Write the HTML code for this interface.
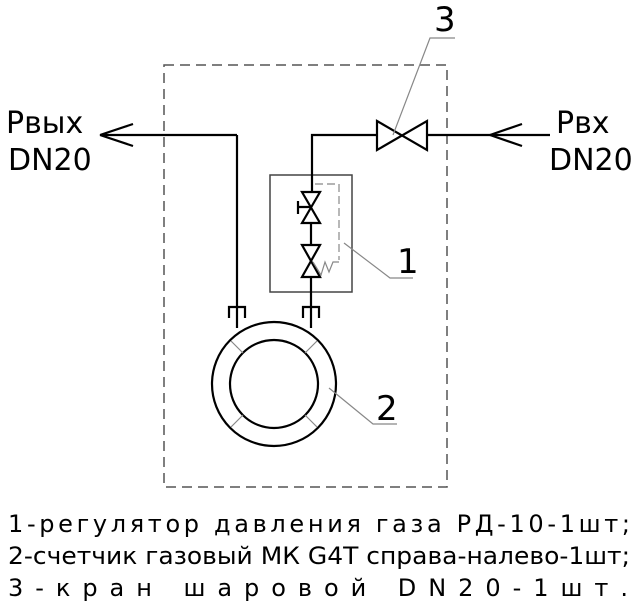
<!DOCTYPE html>
<html><head><style>body{margin:0;background:#fff}svg{display:block}</style></head><body>
<svg width="637" height="614" viewBox="0 0 637 614" xmlns="http://www.w3.org/2000/svg" font-family="'DejaVu Sans','Liberation Sans',sans-serif">
<g fill="none" stroke="#000" stroke-width="2.2">
<rect x="164" y="65" width="283" height="422" stroke="#555" stroke-width="1.5" stroke-dasharray="10,6"/>
<rect x="270" y="175" width="82" height="117" stroke="#444" stroke-width="1.5"/>
<path d="M550 135 H427 M377 135 H312 V192 M311 223 V245 M311 277 V328"/>
<path d="M490 135 L522 124 M490 135 L522 146"/>
<path d="M237 135 H100 M100 135 L133 124 M100 135 L133 146 M237 135 V328"/>
<path d="M377 121 L427 150 L427 121 L377 150 Z"/>
<path d="M302 192 L320 192 L302 223 L320 223 Z M298 207 H311 M298 201 V214"/>
<path d="M302 245 L320 245 L302 277 L320 277 Z"/>
<path d="M229 318 V307 H245 V318 M303 318 V307 H319 V318"/>
<circle cx="274" cy="384" r="62"/>
<circle cx="274" cy="384" r="44"/>
</g>
<g fill="none" stroke="#888" stroke-width="1.2">
<path d="M231 341 L243 353 M317 341 L305 353 M231 427 L243 415 M317 427 L305 415"/>
<path d="M315 184 H339 V260" stroke-dasharray="8,4"/>
<path d="M339 262 L333 262 L329 272 L325 262 L321 275 L313 262"/>
<path d="M455 38 H430 L393 135"/>
<path d="M344 243 L390 278 H413"/>
<path d="M329 388 L373 424 H397"/>
</g>
<g font-size="34" fill="#000">
<text x="434" y="31">3</text>
<text x="397" y="273">1</text>
<text x="376" y="420">2</text>
</g>
<g font-size="30" fill="#000">
<text x="6" y="133">Pвых</text>
<text x="8" y="170">DN20</text>
<text x="556" y="133">Pвх</text>
<text x="549" y="170">DN20</text>
</g>
<g font-size="24" fill="#000">
<text x="8" y="532" textLength="622" lengthAdjust="spacing">1-регулятор давления газа РД-10-1шт;</text>
<text x="8" y="564" textLength="622" lengthAdjust="spacingAndGlyphs">2-счетчик газовый МК G4T справа-налево-1шт;</text>
<text x="8" y="596" textLength="620" lengthAdjust="spacing">3-кран шаровой DN20-1шт.</text>
</g>
</svg>
</body></html>
